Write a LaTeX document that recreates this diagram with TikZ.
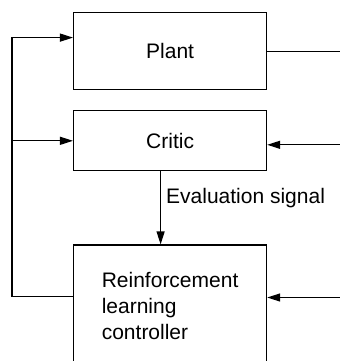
\documentclass[tikz,border=0pt]{standalone}
\usepackage{fontspec}
\setsansfont{Liberation Sans}
\usetikzlibrary{arrows.meta,positioning}
\tikzset{
  blockbox/.style={
    rectangle, draw=black, line width=0.6pt,
    minimum width=96.5pt, minimum height=#1,
    font=\fontsize{10.5}{13}\selectfont\sffamily, align=left,
    inner sep=0pt
  },
  blockbox/.default=30pt,
  sigline/.style={line width=0.6pt},
  sigarrow/.style={
    -{Triangle[length=6.5pt,width=4pt]}, line width=0.6pt
  },
  labelnode/.style={
    font=\fontsize{10.5}{13}\selectfont\sffamily, inner sep=2.5pt
  },
}
\begin{document}
\begin{tikzpicture}
  \useasboundingbox (0,0) rectangle (170pt,-180.5pt);
  \coordinate (leftbus) at (6pt,0);
  \coordinate (rightedge) at (170pt,0);

  \node[blockbox=38.5pt, anchor=north west] (plant) at (36.5pt,-6pt) {Plant};
  \node[blockbox=30pt, below=10pt of plant] (critic) {Critic};
  \node[blockbox=60.5pt, below=36.5pt of critic] (rl)
    {Reinforcement\\learning\\controller};

  % feedback from controller to plant and critic
  \draw[sigarrow] ([yshift=4.5pt]rl.west) -- ([yshift=4.5pt]rl.west -| leftbus)
    |- ([yshift=6.75pt]plant.west);
  \draw[sigarrow] (critic.west -| leftbus) -- (critic.west);

  % signals on the right
  \draw[sigline] (plant.east) -- (plant.east -| rightedge);
  \draw[sigarrow] ([yshift=-2pt]critic.east -| rightedge) -- ([yshift=-2pt]critic.east);
  \draw[sigarrow] ([yshift=4pt]rl.east -| rightedge) -- ([yshift=4pt]rl.east);

  % evaluation signal
  \draw[sigarrow] ([xshift=-4.75pt]critic.south) -- ([xshift=-4.75pt]critic.south |- rl.north)
    node[labelnode, pos=0.37, right] {Evaluation signal};
\end{tikzpicture}
\end{document}
